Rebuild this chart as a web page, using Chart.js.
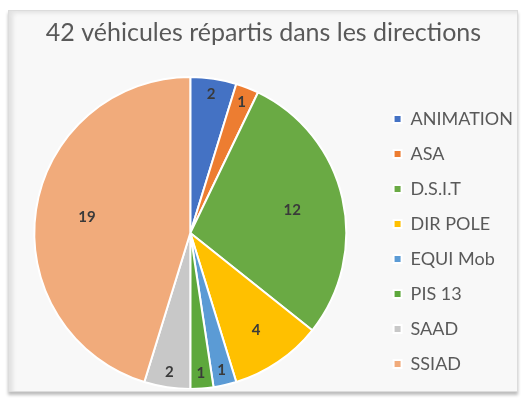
<!DOCTYPE html>
<html>
<head>
<meta charset="utf-8">
<script src="https://cdn.jsdelivr.net/npm/chart.js@4.4.0/dist/chart.umd.min.js"></script>
<style>
  html, body { margin: 0; padding: 0; background: #fff; }
  body { width: 522px; height: 400px; position: relative; overflow: hidden; }
  #frame {
    position: absolute; left: 8px; top: 10px; width: 508px; height: 380px;
    border: 1px solid #dcdcdc; background: #f8f8f8;
    box-shadow: inset 8px 6px 4px -4px #e2e2e2, 0 3px 3px #bdbdbd;
  }
  #clip { position: absolute; left: 0; top: 0; width: 522px; height: 389px; overflow: hidden; }
  #chart { position: absolute; top: 0; }
</style>
</head>
<body>
<div id="frame"></div>
<div id="clip"><canvas id="chart"></canvas></div>
<script>
// Chart data
const directions = ['ANIMATION', 'ASA', 'D.S.I.T', 'DIR POLE', 'EQUI Mob', 'PIS 13', 'SAAD', 'SSIAD'];
const vehicules = [2, 1, 12, 4, 1, 1, 2, 19];
const slice_colors = ['#4472C4', '#ED7D31', '#6AAA44', '#FFC000', '#5B9BD5', '#5DA83C', '#C8C8C8', '#F1AB7B'];

const font_family = 'Lato, "Liberation Sans", sans-serif';
const legend_size = 18;
const legend_padding = 17;
const legend_box = 8;

// size the canvas so the pie and legend land where the original ones were
let probe = document.createElement('canvas').getContext('2d');
probe.font = legend_size + 'px ' + font_family;
let longest = Math.max(...directions.map(d => probe.measureText(d).width));
let legend_width = legend_padding + legend_box + legend_size / 2 + longest;
let canvas = document.getElementById('chart');
canvas.width = Math.ceil(382 + legend_width);
canvas.height = 400;
canvas.style.left = '4px';

// value labels drawn inside each slice
const slice_labels = {
    id: 'slice_labels',
    afterDatasetsDraw(chart) {
        let ctx = chart.ctx;
        let meta = chart.getDatasetMeta(0);
        ctx.save();
        ctx.font = 'bold 15px ' + font_family;
        ctx.fillStyle = '#3a3a3a';
        ctx.textAlign = 'center';
        ctx.textBaseline = 'middle';
        meta.data.forEach(function(arc, i) {
            let value = vehicules[i];
            let frac = value <= 2 ? 0.9 : (value <= 4 ? 0.75 : 0.67);
            let mid = (arc.startAngle + arc.endAngle) / 2;
            let r = arc.outerRadius * frac;
            ctx.fillText(String(value), arc.x + Math.cos(mid) * r, arc.y + Math.sin(mid) * r);
        });
        ctx.restore();
    }
};

new Chart(canvas, {
    type: 'pie',
    data: {
        labels: directions,
        datasets: [{
            data: vehicules,
            backgroundColor: slice_colors,
            borderColor: '#ffffff',
            borderWidth: 2
        }]
    },
    options: {
        responsive: false,
        animation: false,
        layout: { padding: { top: 0, bottom: 10, left: 0, right: 0 } },
        plugins: {
            title: {
                display: true,
                text: '42 véhicules répartis dans les directions',
                color: '#595959',
                font: { family: font_family, size: 25, weight: 'normal' },
                padding: { top: 18, bottom: 28 }
            },
            legend: {
                position: 'right',
                fullSize: false,
                align: 'end',
                labels: {
                    boxWidth: legend_box,
                    boxHeight: legend_box,
                    padding: legend_padding,
                    color: '#595959',
                    font: { family: font_family, size: legend_size }
                }
            },
            tooltip: { enabled: false }
        }
    },
    plugins: [slice_labels]
});
</script>
</body>
</html>
